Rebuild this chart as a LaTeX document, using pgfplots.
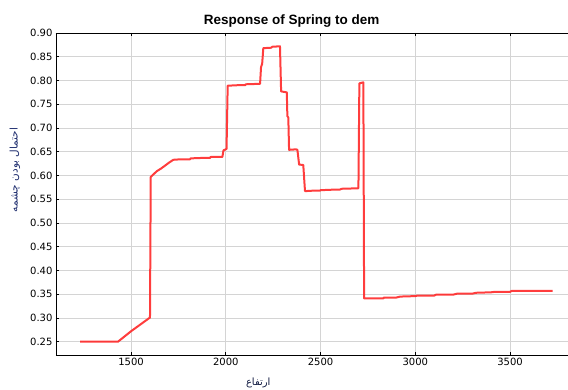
\documentclass[border=0pt]{standalone}
\usepackage{fontspec}
\setmainfont{DejaVu Sans}
\newfontfamily\titlefont{Liberation Sans}
\newfontfamily\arabicfont[Script=Arabic]{DejaVu Sans}
\TeXXeTstate=1
\usepackage{pgfplots}
\pgfplotsset{compat=1.18}
\definecolor{curvered}{RGB}{255,40,40}
\definecolor{gridgray}{RGB}{212,212,212}
\definecolor{labelblue}{RGB}{30,45,110}

\pgfplotstableread{
x y
1231 0.250
1431 0.250
1500 0.272
1597 0.300
1600 0.300
1604 0.597
1620 0.603
1636 0.609
1660 0.615
1697 0.626
1723 0.633
1760 0.634
1811 0.634
1815 0.636
1880 0.637
1917 0.637
1920 0.639
1982 0.639
1988 0.653
2000 0.655
2004 0.656
2010 0.789
2060 0.790
2102 0.790
2105 0.792
2181 0.793
2186 0.828
2192 0.835
2198 0.868
2240 0.869
2245 0.871
2286 0.872
2292 0.777
2322 0.775
2325 0.725
2330 0.722
2334 0.654
2370 0.655
2378 0.654
2387 0.623
2409 0.622
2418 0.567
2460 0.568
2497 0.568
2500 0.569
2560 0.570
2600 0.570
2612 0.572
2700 0.573
2705 0.794
2726 0.796
2730 0.341
2780 0.341
2831 0.341
2835 0.343
2900 0.343
2920 0.345
3000 0.346
3010 0.347
3100 0.347
3110 0.349
3200 0.349
3219 0.351
3300 0.351
3320 0.353
3400 0.354
3420 0.355
3500 0.355
3510 0.357
3725 0.357
}\springdata

\begin{document}
\begin{tikzpicture}
\useasboundingbox (-56pt,-35pt) rectangle (512pt,355pt);
\begin{axis}[
  at={(0pt,0pt)}, anchor=south west,
  scale only axis, width=512pt, height=322pt,
  xmin=1104, xmax=3806, ymin=0.222, ymax=0.90,
  axis x line*=box, axis y line*=left,
  axis line style={black, line width=0.9pt, -},
  xtick={1500,2000,2500,3000,3500},
  ytick={0.25,0.30,...,0.901},
  yticklabel style={/pgf/number format/fixed, /pgf/number format/fixed zerofill, /pgf/number format/precision=2},
  /pgf/number format/assume math mode=true,
  xticklabel style={/pgf/number format/1000 sep={}},
  tick label style={font=\fontsize{10}{12}\selectfont, text=black},
  tick align=inside, major tick length=3pt,
  tick style={black, line width=0.8pt},
  grid=major, major grid style={gridgray, line width=0.9pt},
  title={\titlefont\bfseries Response of Spring to dem},
  title style={font=\fontsize{13.5}{15}\selectfont, at={(axis description cs:0.46,1)}, anchor=south, yshift=-4pt},
  xlabel={\arabicfont\beginR ارتفاع\endR},
  xlabel style={font=\fontsize{10}{12}\selectfont, text=labelblue!60!black, at={(axis description cs:0.395,-0.087)}, anchor=center},
  ylabel={\arabicfont\beginR احتمال بودن چشمه\endR},
  ylabel style={font=\fontsize{10.5}{12}\selectfont, text=labelblue, at={(axis description cs:-0.080,0.575)}, anchor=center},
]
\addplot[curvered, line width=2pt, line join=round, opacity=0.9] table[x=x, y=y] {\springdata};
\end{axis}
\end{tikzpicture}
\end{document}
